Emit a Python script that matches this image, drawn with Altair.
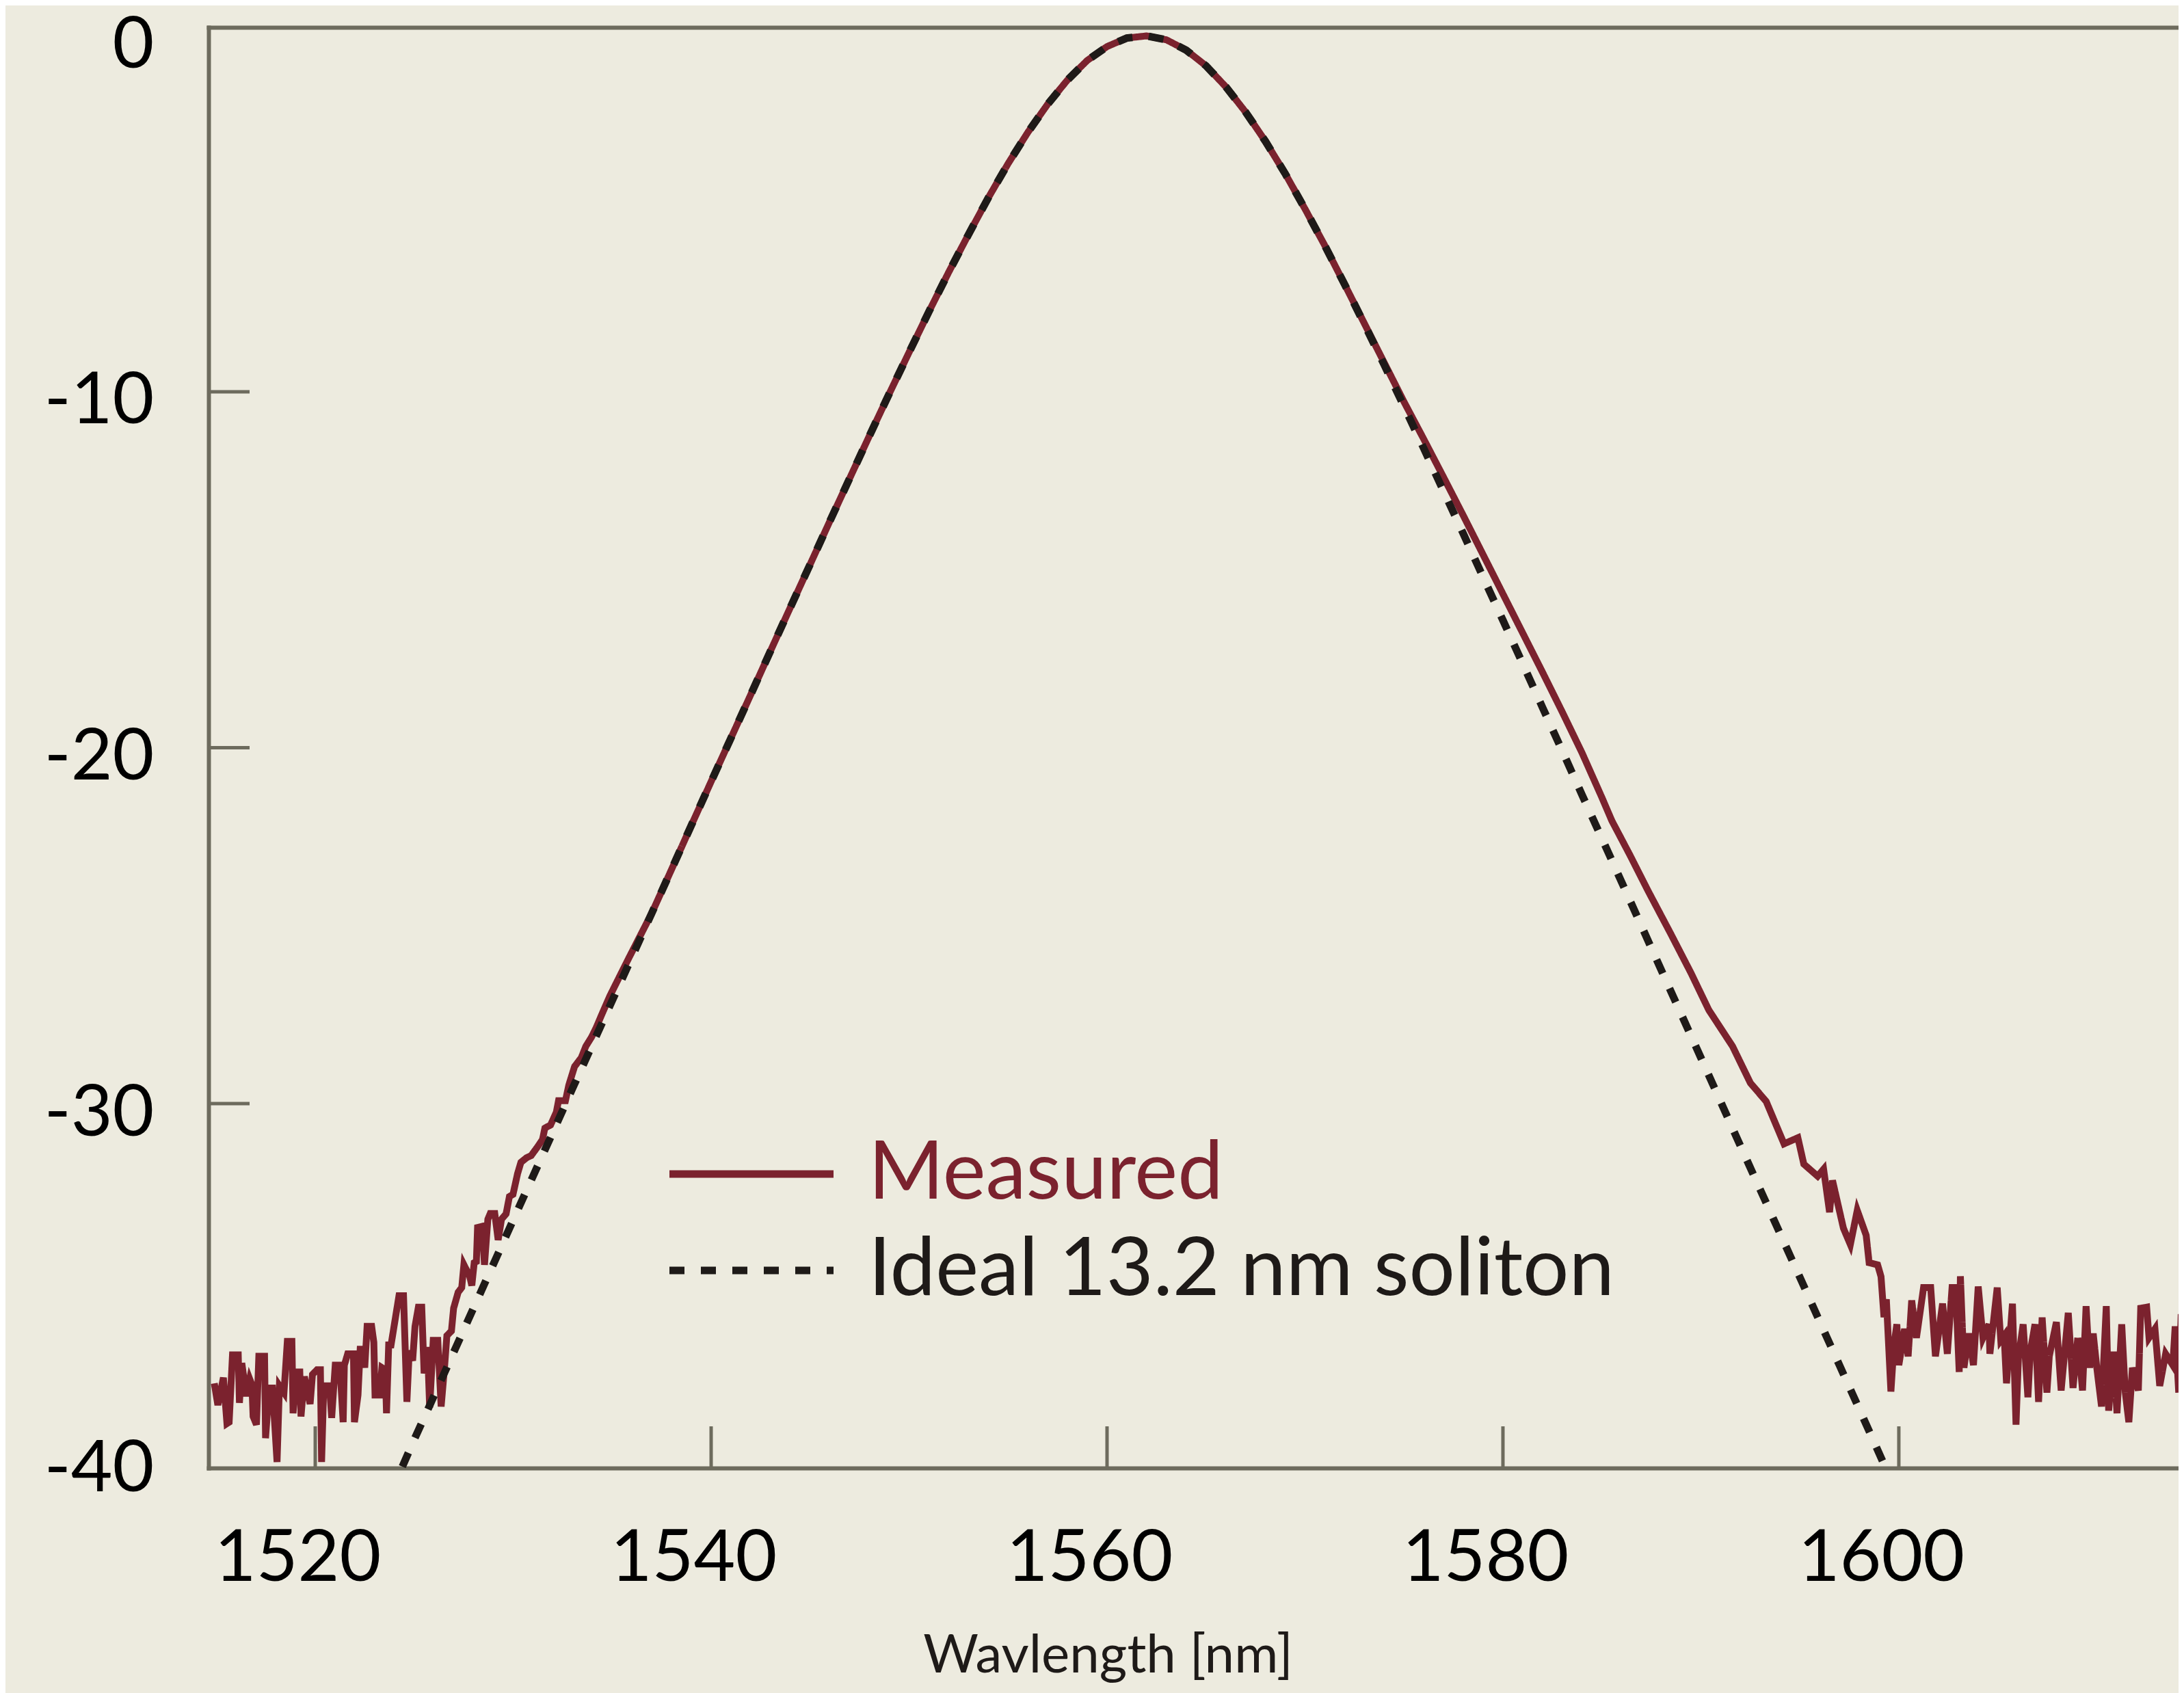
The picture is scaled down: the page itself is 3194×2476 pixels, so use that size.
import altair as alt
import pandas as pd

# ---------------- data ----------------
meas_wl = [
    1514.90, 1515.08, 1515.36, 1515.54, 1515.65, 1515.82, 1516.11, 1516.17, 1516.29, 1516.52,
    1516.69, 1516.80, 1516.86, 1517.03, 1517.15, 1517.44, 1517.49, 1517.67, 1517.84, 1518.07,
    1518.19, 1518.42, 1518.59, 1518.82, 1518.88, 1519.05, 1519.22, 1519.28, 1519.45, 1519.74,
    1519.86, 1520.09, 1520.26, 1520.32, 1520.43, 1520.72, 1520.83, 1521.01, 1521.24, 1521.41,
    1521.47, 1521.64, 1521.93, 1521.98, 1522.16, 1522.27, 1522.39, 1522.50, 1522.62, 1522.85,
    1522.96, 1523.02, 1523.25, 1523.37, 1523.54, 1523.60, 1523.71, 1523.83, 1524.23, 1524.46,
    1524.63, 1524.75, 1524.92, 1525.04, 1525.21, 1525.38, 1525.50, 1525.67, 1525.78, 1525.96,
    1526.19, 1526.36, 1526.53, 1526.65, 1526.88, 1526.99,
    1527.22, 1527.40, 1527.51, 1527.80, 1527.91, 1528.03, 1528.14, 1528.20, 1528.43, 1528.55,
    1528.72, 1528.84, 1529.07, 1529.24, 1529.41, 1529.64, 1529.81, 1529.99, 1530.22, 1530.39,
    1530.68, 1530.91, 1531.25, 1531.48, 1531.60, 1531.89, 1532.18, 1532.29, 1532.64, 1532.81,
    1533.10, 1533.44, 1533.67, 1533.96, 1534.19, 1534.48, 1534.88, 1535.40, 1535.86,
    1537, 1538, 1539, 1540, 1541, 1542, 1543, 1544, 1545, 1546, 1547, 1548, 1549, 1550,
    1551, 1552, 1553, 1554, 1555, 1556, 1557, 1558, 1559, 1560, 1561, 1562, 1563, 1564,
    1565, 1566, 1567, 1568, 1569, 1570, 1571, 1572, 1573,
    1574, 1575, 1576, 1577, 1578, 1579, 1580, 1581, 1582, 1583, 1584, 1585, 1585.5, 1586.4,
    1587.33, 1588.47, 1589.5, 1590.4, 1591.6, 1592.5, 1593.3, 1594.2, 1594.9, 1595.2,
    1595.9, 1596.2, 1596.5, 1596.65, 1597.2, 1597.55, 1597.9, 1598.35, 1598.5, 1598.93,
    1599.1, 1599.25, 1599.37, 1599.6, 1599.75, 1599.9, 1600.0,
    1600.29, 1600.47, 1600.65, 1600.89, 1601.25, 1601.61, 1601.85, 1602.21, 1602.45, 1602.69,
    1602.87, 1603.05, 1603.11, 1603.29, 1603.53, 1603.77, 1604.01, 1604.25, 1604.55, 1604.60,
    1604.97, 1605.15, 1605.32, 1605.44, 1605.74, 1605.92, 1606.04, 1606.28, 1606.52, 1606.64,
    1606.88, 1607.06, 1607.24, 1607.48, 1607.60, 1607.96, 1608.20, 1608.56, 1608.80, 1609.04,
    1609.28, 1609.46, 1609.64, 1609.82, 1610.00, 1610.24, 1610.48, 1610.60, 1610.84, 1611.02,
    1611.26, 1611.44, 1611.62, 1611.80, 1612.10, 1612.22, 1612.52, 1612.64, 1612.94, 1613.18,
    1613.48, 1613.84, 1613.96, 1614.14, 1614.26, 1614.40,
]
meas_db = [
    -37.86, -38.47, -37.70, -38.99, -38.95, -37.06, -37.06, -38.41, -37.29, -38.22,
    -37.74, -37.90, -38.79, -39.02, -37.10, -37.10, -39.40, -37.99, -37.99, -40.07,
    -37.93, -38.12, -36.68, -36.68, -38.70, -37.54, -37.54, -38.79, -37.67, -38.44,
    -37.61, -37.48, -37.48, -40.07, -37.93, -37.93, -38.83, -37.35, -37.35, -38.95,
    -37.35, -37.03, -37.03, -38.95, -38.19, -36.90, -36.90, -37.42, -36.26, -36.26,
    -36.71, -38.19, -38.19, -37.42, -37.48, -38.70, -36.78, -36.78, -35.40, -35.40,
    -38.38, -36.94, -37.22, -36.26, -35.72, -35.72, -37.58, -36.84, -38.54, -36.65,
    -36.65, -38.51, -37.42, -36.52, -36.39, -35.75,
    -35.30, -35.17, -34.53, -34.85, -35.11, -34.47, -34.44, -33.48, -33.45, -34.53,
    -33.25, -33.09, -33.09, -33.83, -33.25, -33.10, -32.61, -32.55, -31.97, -31.65,
    -31.52, -31.46, -31.20, -31.01, -30.69, -30.60, -30.24, -29.92, -29.92, -29.48,
    -28.96, -28.71, -28.39, -28.13, -27.87, -27.49, -26.98, -26.40, -25.89,
    -24.65, -23.42, -22.18, -20.95, -19.73, -18.51, -17.28, -16.06, -14.85, -13.63, -12.43, -11.23, -10.05, -8.89,
    -7.75, -6.64, -5.58, -4.55, -3.59, -2.71, -1.92, -1.24, -0.69, -0.30, -0.06, 0.0, -0.11, -0.40,
    -0.84, -1.43, -2.14, -2.96, -3.87, -4.86, -5.89, -6.98, -8.08,
    -9.18, -10.28, -11.33, -12.40, -13.48, -14.58, -15.68, -16.78, -17.88, -19.00, -20.15, -21.40, -22.05, -23.00,
    -24.02, -25.22, -26.33, -27.37, -28.39, -29.42, -29.94, -31.13, -30.96, -31.70,
    -32.04, -31.84, -33.05, -32.16, -33.50, -33.96, -33.00, -33.70, -34.47, -34.53,
    -34.86, -36.00, -35.50, -38.09, -36.80, -36.20, -37.35,
    -36.33, -37.10, -35.53, -36.58, -35.17, -35.17, -37.10, -35.62, -37.03, -35.17,
    -35.17, -37.54, -34.85, -37.42, -36.46, -37.35, -35.14, -36.58, -36.20, -37.03,
    -35.17, -36.65, -36.52, -37.86, -35.62, -39.02, -37.16, -36.20, -38.25, -36.97,
    -36.20, -38.38, -36.01, -38.12, -37.10, -36.14, -38.06, -35.88, -37.99, -36.58,
    -38.06, -35.69, -37.42, -36.46, -37.42, -38.51, -35.69, -38.63, -36.97, -38.70,
    -36.20, -38.12, -38.95, -37.42, -38.06, -35.75, -35.72, -36.58, -36.33, -37.93,
    -37.03, -37.35, -36.26, -38.12, -36.01, -36.01,
]

ideal_wl = [
    1524.40, 1525, 1526, 1527, 1528, 1529, 1530, 1531, 1532, 1533, 1534, 1535, 1536,
    1537, 1538, 1539, 1540, 1541, 1542, 1543, 1544, 1545, 1546, 1547, 1548, 1549, 1550,
    1551, 1552, 1553, 1554, 1555, 1556, 1557, 1558, 1559, 1560, 1561, 1562, 1563, 1564,
    1565, 1566, 1567, 1568, 1569, 1570, 1571, 1572, 1573, 1574, 1575, 1576, 1577, 1578,
    1579, 1580, 1581, 1582, 1583, 1584, 1585, 1586, 1587, 1588, 1589, 1590, 1591, 1592,
    1593, 1594, 1595, 1596, 1597, 1598, 1599, 1599.30,
]
ideal_db = [
    -40.20, -39.44, -38.21, -36.98, -35.74, -34.51, -33.27, -32.04, -30.81, -29.57, -28.34, -27.11, -25.88,
    -24.65, -23.42, -22.18, -20.95, -19.73, -18.51, -17.28, -16.06, -14.85, -13.63, -12.43, -11.23, -10.05, -8.89,
    -7.75, -6.64, -5.58, -4.55, -3.59, -2.71, -1.92, -1.24, -0.69, -0.30, -0.06, 0.0, -0.11, -0.40,
    -0.84, -1.43, -2.14, -2.96, -3.87, -4.86, -5.89, -6.98, -8.10, -9.24, -10.41, -11.59, -12.79, -13.99,
    -15.21, -16.42, -17.64, -18.87, -20.09, -21.33, -22.55, -23.78, -25.01, -26.25, -27.48, -28.71, -29.95, -31.19,
    -32.42, -33.65, -34.88, -36.12, -37.35, -38.58, -39.82, -40.20,
]

series_names = ["Measured", "Ideal 13.2 nm soliton"]
x_ticks = [1520, 1540, 1560, 1580, 1600]
y_ticks = [-10, -20, -30]
y_labels = [0, -10, -20, -30, -40]

# ---------------- styling ----------------
BG = "#EDEBDF"
AX = "#6D6B5D"
RED = "#7B222E"
INK = "#1E1A18"
FONT = "Lato"
W, H = 2881, 2107
X_DOM = [1514.61, 1614.13]
Y_DOM = [-40.24, 0.24]

meas = pd.DataFrame({"wl": meas_wl, "db": meas_db, "series": series_names[0]})
ideal = pd.DataFrame({"wl": ideal_wl, "db": ideal_db, "series": series_names[1]})
xt_df = pd.DataFrame({"v": x_ticks})
yt_df = pd.DataFrame({"v": y_ticks})

xscale = alt.Scale(domain=X_DOM, nice=False, zero=False)
yscale = alt.Scale(domain=Y_DOM, nice=False, zero=False)

legend = alt.Legend(
    title=None, orient="none", legendX=734.5, legendY=1617.5, padding=0,
    symbolType="M-4,0H4", symbolSize=3600, symbolStrokeWidth=11, symbolOffset=0,
    labelFont=FONT, labelFontSize=119, labelOffset=111.5, labelLimit=3000,
    labelBaseline="middle",
    labelColor=alt.ExprRef(expr="datum.label == 'Measured' ? '%s' : '%s'" % (RED, INK)),
    rowPadding=21,
)
color = alt.Color("series:N", scale=alt.Scale(domain=series_names, range=[RED, INK]), legend=legend)
dash = alt.StrokeDash("series:N", scale=alt.Scale(domain=series_names, range=[[1, 0], [22, 24]]), legend=legend)

x_axis_bottom = alt.Axis(
    orient="bottom", values=x_ticks, format="d", ticks=False, tickSize=0, grid=False,
    domainColor=AX, domainWidth=6, domainCap="square",
    labelFont=FONT, labelFontSize=105, labelColor="#000000", labelPadding=81, labelOffset=-26,
    labelBaseline="top", labelFlush=False, labelOverlap=False, labelLimit=0,
    title="Wavlength [nm]", titleFont=FONT, titleFontSize=78, titleFontWeight="normal",
    titleColor=INK, titleX=1315, titleY=298, titleBaseline="alphabetic", titleAlign="center",
    titleLimit=0,
)
x_axis_top = alt.Axis(
    orient="top", labels=False, ticks=False, tickSize=0, grid=False,
    domainColor=AX, domainWidth=6, domainCap="square", title=None,
)
y_axis = alt.Axis(
    orient="left", values=y_labels, labelExpr="'' + datum.value", ticks=False, tickSize=0, grid=False,
    domainColor=AX, domainWidth=6, domainCap="square",
    labelFont=FONT, labelFontSize=105, labelColor="#000000", labelPadding=80, labelOffset=14,
    labelBaseline="middle", labelAlign="right", labelFlush=False, labelOverlap=False,
    labelLimit=0, title=None,
)

xt = alt.Chart(xt_df).mark_rule(color=AX, strokeWidth=5).encode(
    x=alt.X("v:Q", scale=xscale, axis=None),
    y=alt.value(H - 61), y2=alt.value(H),
)
yt = alt.Chart(yt_df).mark_rule(color=AX, strokeWidth=5).encode(
    y=alt.Y("v:Q", scale=yscale, axis=None),
    x=alt.value(0), x2=alt.value(60),
)
red = alt.Chart(meas).mark_line(strokeWidth=10, clip=True).encode(
    x=alt.X("wl:Q", scale=xscale, axis=x_axis_bottom),
    y=alt.Y("db:Q", scale=yscale, axis=y_axis),
    color=color, strokeDash=dash,
)
ideal_line = alt.Chart(ideal).mark_line(strokeWidth=11, clip=True).encode(
    x=alt.X("wl:Q", scale=xscale, axis=x_axis_top),
    y=alt.Y("db:Q", scale=yscale, axis=None),
    color=color, strokeDash=dash,
)

chart = (
    alt.layer(xt, yt, red, ideal_line)
    .resolve_axis(x="independent", y="independent")
    .properties(
        width=W, height=H, background=BG,
        padding={"left": 297, "top": 32, "right": 0, "bottom": 329},
        autosize=alt.AutoSizeParams(type="none"),
    )
    .configure_view(stroke=None)
)

chart.save("out.html", embed_options={"renderer": "svg", "actions": False})
